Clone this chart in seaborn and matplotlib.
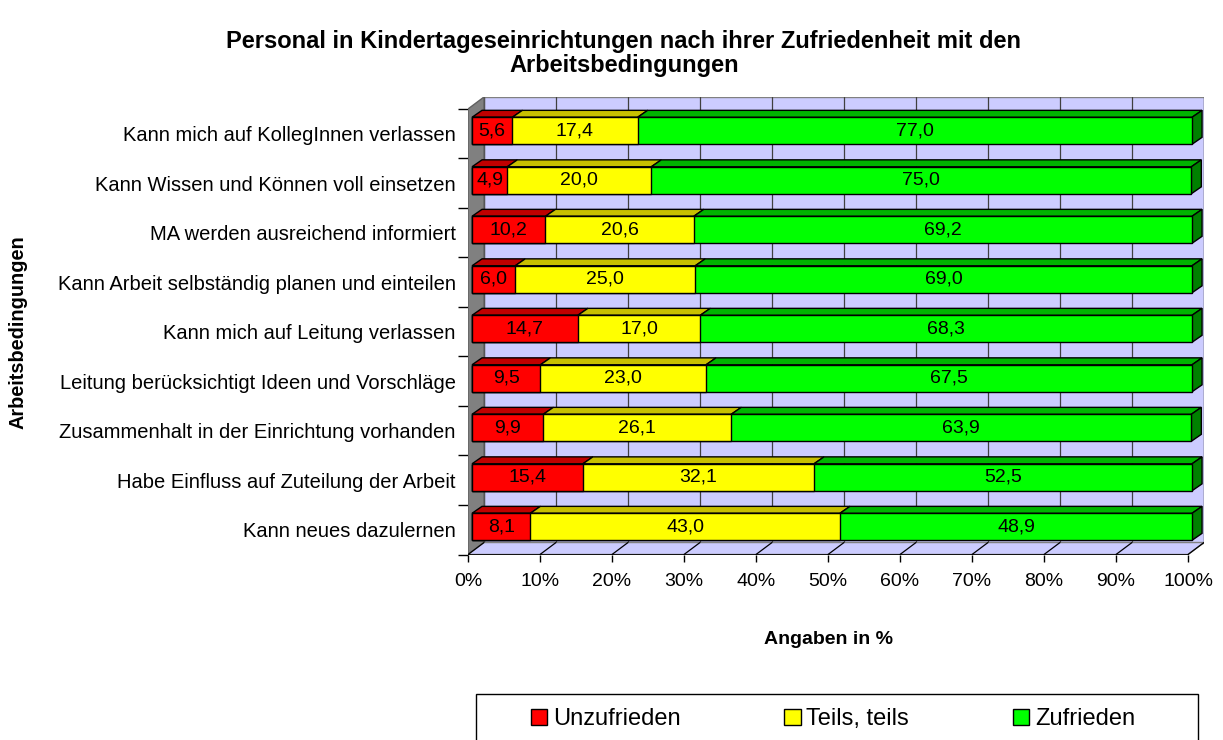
import numpy as np
import pandas as pd
import matplotlib
matplotlib.use("Agg")
import matplotlib.pyplot as plt
import matplotlib.transforms as mtransforms
from matplotlib.patches import Polygon, Rectangle, Patch
import seaborn as sns

# data, top bar first
labels = [
    "Kann mich auf KollegInnen verlassen",
    "Kann Wissen und Können voll einsetzen",
    "MA werden ausreichend informiert",
    "Kann Arbeit selbständig planen und einteilen",
    "Kann mich auf Leitung verlassen",
    "Leitung berücksichtigt Ideen und Vorschläge",
    "Zusammenhalt in der Einrichtung vorhanden",
    "Habe Einfluss auf Zuteilung der Arbeit",
    "Kann neues dazulernen",
]
unzufrieden = [5.6, 4.9, 10.2, 6.0, 14.7, 9.5, 9.9, 15.4, 8.1]
teils = [17.4, 20.0, 20.6, 25.0, 17.0, 23.0, 26.1, 32.1, 43.0]
zufrieden = [77.0, 75.0, 69.2, 69.0, 68.3, 67.5, 63.9, 52.5, 48.9]
series_names = ["Unzufrieden", "Teils, teils", "Zufrieden"]
x_ticks = [0, 10, 20, 30, 40, 50, 60, 70, 80, 90, 100]

front_cols = ["#FF0000", "#FFFF00", "#00FF00"]
top_cols = ["#C00000", "#C8C000", "#00B400"]
side_col = "#008000"
wall_col = "#CCCCFF"

# fake 3d depth (data units)
DX, DY = 2.22, 0.242       # wall depth
BX0, BY0 = 0.56, 0.06      # bar front face offset
BDX, BDY = 1.39, 0.14      # bar depth
BAR_H = 0.545

sns.set_style("white")
plt.rcParams["font.family"] = ["Liberation Sans", "DejaVu Sans"]
plt.rcParams["text.color"] = "black"
plt.rcParams["xtick.color"] = "black"
plt.rcParams["ytick.color"] = "black"
plt.rcParams["xtick.labelcolor"] = "black"
plt.rcParams["ytick.labelcolor"] = "black"

df = pd.DataFrame({"label": labels, "u": unzufrieden, "t": teils, "z": zufrieden})
df["c1"] = df["u"]
df["c2"] = df["u"] + df["t"]
df["c3"] = df["u"] + df["t"] + df["z"]

fig = plt.figure(figsize=(12.23, 7.4), dpi=100)
ax = fig.add_axes([468 / 1223, 1 - 554.5 / 740, 736 / 1223, 457.5 / 740])

# stacked bars drawn as layered cumulative totals
for col, fc in zip(["c3", "c2", "c1"], front_cols[::-1]):
    sns.barplot(data=df, x=col, y="label", color=fc, width=BAR_H, orient="h",
                edgecolor="black", linewidth=1, saturation=1, ax=ax, zorder=4)
shift = mtransforms.Affine2D().translate(BX0, -BY0) + ax.transData
for p in list(ax.patches):
    p.set_transform(shift)

n = len(labels)
y_top, y_bot = -0.5, n - 0.5

# walls and floor
ax.add_patch(Rectangle((DX, y_top - DY), 100, n, facecolor=wall_col,
                       edgecolor="#808080", lw=1, zorder=0))
ax.add_patch(Polygon([(0, y_top), (DX, y_top - DY), (DX, y_bot - DY), (0, y_bot)],
                     facecolor="#808080", edgecolor="#606060", lw=1, zorder=1))
ax.add_patch(Polygon([(0, y_bot), (100, y_bot), (100 + DX, y_bot - DY), (DX, y_bot - DY)],
                     facecolor=wall_col, edgecolor="#808080", lw=1, zorder=1))
for xv in x_ticks:
    ax.plot([xv + DX, xv + DX], [y_top - DY, y_bot - DY], color="#404040", lw=0.9, zorder=0.5)
    ax.plot([xv, xv + DX], [y_bot, y_bot - DY], color="black", lw=0.9, zorder=1.5)
ax.plot([0, 100], [y_bot, y_bot], color="black", lw=1.2, zorder=2)

# top faces, side face, value labels
for i in range(n):
    yt = i - BY0 - BAR_H / 2
    lefts = [0, df["c1"][i], df["c2"][i]]
    vals = [unzufrieden[i], teils[i], zufrieden[i]]
    for k in range(3):
        l = lefts[k] + BX0
        r = lefts[k] + vals[k] + BX0
        ax.add_patch(Polygon([(l, yt), (r, yt), (r + BDX, yt - BDY), (l + BDX, yt - BDY)],
                             facecolor=top_cols[k], edgecolor="black", lw=1, zorder=3))
        ax.text(l + vals[k] / 2, i - BY0, f"{vals[k]:.1f}".replace(".", ","),
                ha="center", va="center", fontsize=14, color="black", zorder=6)
    r = df["c3"][i] + BX0
    yb = yt + BAR_H
    ax.add_patch(Polygon([(r, yt), (r, yb), (r + BDX, yb - BDY), (r + BDX, yt - BDY)],
                         facecolor=side_col, edgecolor="black", lw=1, zorder=3))

ax.set_xlim(0, 100 + DX)
ax.set_ylim(y_bot, y_top - DY)
for s in ax.spines.values():
    s.set_visible(False)

ax.set_xticks(x_ticks)
ax.set_xticklabels([f"{v}%" for v in x_ticks], fontsize=14)
ax.set_yticks(range(n))
ax.set_yticklabels(labels, fontsize=14.5)
ax.set_yticks(np.arange(y_top, y_bot + 0.1, 1), minor=True)
ax.tick_params(axis="x", length=5, width=1, color="black", pad=8, bottom=True)
ax.tick_params(axis="y", which="major", length=0, pad=9)
ax.tick_params(axis="y", which="minor", length=7.2, width=1, color="black", left=True)
ax.set_xlabel("")
ax.set_ylabel("")

fig.text(624 / 1223, 1 - 48 / 740,
         "Personal in Kindertageseinrichtungen nach ihrer Zufriedenheit mit den",
         ha="center", va="baseline", fontsize=17, fontweight="bold")
fig.text(624 / 1223, 1 - 72 / 740, "Arbeitsbedingungen",
         ha="center", va="baseline", fontsize=17, fontweight="bold")
fig.text(828 / 1223, 1 - 640 / 740, "Angaben in %", ha="center", va="center",
         fontsize=14, fontweight="bold")
fig.text(18 / 1223, 1 - 332 / 740, "Arbeitsbedingungen", ha="center", va="center",
         rotation=90, fontsize=14.3, fontweight="bold")

# legend
handles = [Patch(facecolor=c, edgecolor="black", lw=1) for c in front_cols]
fig.legend(handles, series_names, loc="center left", ncol=3, frameon=False,
           bbox_to_anchor=(531 / 1223, 1 - 719 / 740), fontsize=17,
           handlelength=0.68, handleheight=0.68, handletextpad=0.25,
           columnspacing=4.4, borderpad=0, borderaxespad=0)
fig.add_artist(Rectangle((476 / 1223, -0.1), 722 / 1223, 0.1 + 46 / 740,
                         transform=fig.transFigure, fill=False,
                         edgecolor="black", lw=1, clip_on=False))

fig.savefig("out.png", dpi=100)
